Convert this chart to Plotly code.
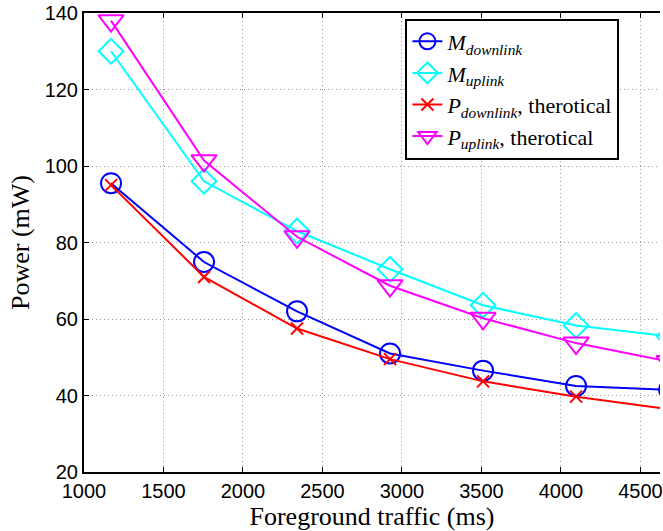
import plotly.graph_objects as go

# Data
traffic_ms = [1170, 1755, 2340, 2925, 3510, 4095, 4680]
m_downlink = [95.5, 74.9, 62.0, 51.0, 46.5, 42.5, 41.5]
m_uplink = [130.0, 96.0, 83.0, 73.0, 63.6, 58.3, 55.5]
p_downlink = [95.0, 71.0, 57.5, 49.5, 43.7, 39.7, 36.4]
p_uplink = [138.0, 101.4, 81.5, 68.7, 60.2, 53.7, 48.9]

x_ticks = [1000, 1500, 2000, 2500, 3000, 3500, 4000, 4500, 5000]
y_ticks = [20, 40, 60, 80, 100, 120, 140]

SUB = "<sub><i>{}</i></sub>"
series = [
    ("<i>M</i>" + SUB.format("downlink"), m_downlink, "#0000FF", "circle-open", 20),
    ("<i>M</i>" + SUB.format("uplink"), m_uplink, "#00FFFF", "diamond-open", 19),
    ("<i>P</i>" + SUB.format("downlink") + ", therotical", p_downlink, "#FF0000", "x-thin-open", 12),
    ("<i>P</i>" + SUB.format("uplink") + ", therotical", p_uplink, "#FF00FF", "triangle-down-open", 22),
]

fig = go.Figure()
for name, ys, color, sym, size in series:
    fig.add_trace(go.Scatter(
        x=traffic_ms, y=ys, name=name, mode="lines+markers",
        line=dict(color=color, width=2),
        marker=dict(symbol=sym, size=size, color=color,
                    line=dict(color=color, width=2)),
    ))

tick_font = dict(family="Liberation Sans, Arial, sans-serif", size=20, color="black")
serif = "Liberation Serif, Times New Roman, serif"

fig.update_layout(
    width=663, height=531,
    margin=dict(l=84, r=0, t=13, b=59),
    paper_bgcolor="white", plot_bgcolor="white",
    showlegend=True,
    legend=dict(
        x=0.558, y=0.988, xanchor="left", yanchor="top",
        bgcolor="white", bordercolor="black", borderwidth=2,
        font=dict(family=serif, size=22, color="black"),
        tracegroupgap=0, itemwidth=30,
    ),
    xaxis=dict(
        range=[1000, 4623], tickvals=x_ticks, ticktext=[str(v) for v in x_ticks],
        ticks="inside", ticklen=5, tickwidth=1, tickcolor="black",
        ticklabeloverflow="allow", ticklabelstandoff=0,
        showline=True, linecolor="black", linewidth=2,
        showgrid=True, gridcolor="#9a9a9a", gridwidth=1, griddash="1px,3px",
        zeroline=False, tickfont=tick_font,
        title=dict(text="Foreground traffic (ms)",
                   font=dict(family=serif, size=26, color="black"), standoff=0),
    ),
    xaxis2=dict(
        overlaying="x", matches="x", side="top", range=[1000, 4623],
        tickvals=x_ticks, ticks="inside", ticklen=5, tickcolor="black",
        showticklabels=False, showline=True, linecolor="black", linewidth=2,
        showgrid=False, zeroline=False,
    ),
    yaxis=dict(
        range=[20, 140], tickvals=y_ticks,
        ticks="inside", ticklen=5, tickwidth=1, tickcolor="black",
        showline=True, linecolor="black", linewidth=2,
        showgrid=True, gridcolor="#9a9a9a", gridwidth=1, griddash="1px,3px",
        zeroline=False, tickfont=tick_font,
        title=dict(text="Power (mW)",
                   font=dict(family=serif, size=26, color="black"), standoff=8),
    ),
)

# invisible trace anchoring the mirrored top axis
fig.add_trace(go.Scatter(x=[1000], y=[20], xaxis="x2", mode="markers",
                         marker=dict(opacity=0), showlegend=False, hoverinfo="skip"))

fig.write_html("out.html")
